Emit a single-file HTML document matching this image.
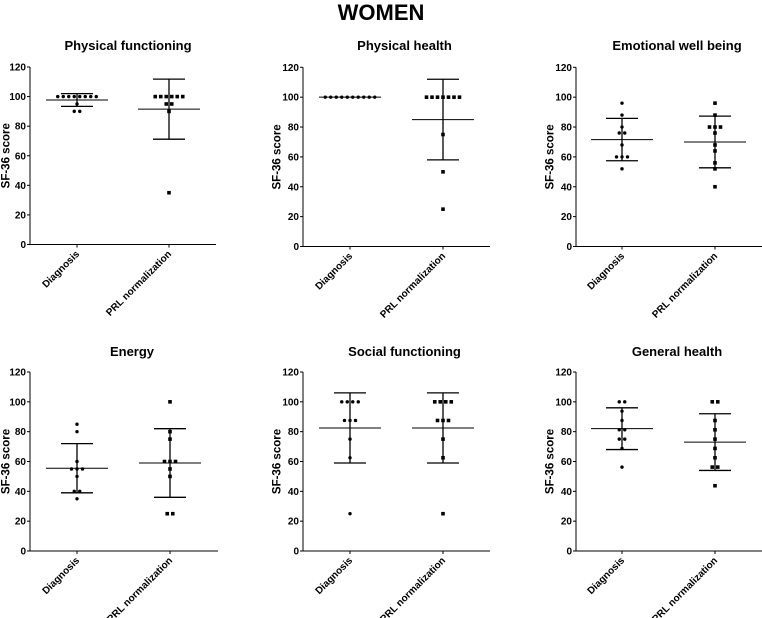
<!DOCTYPE html>
<html><head><meta charset="utf-8"><style>
body{margin:0;background:#fff;}
svg{display:block;font-family:"Liberation Sans",Arial,sans-serif;}
</style></head><body>
<svg id="c" width="762" height="618">
<text x="381" y="20" text-anchor="middle" font-size="22" font-weight="bold">WOMEN</text>
</svg>
<script>
const panelTitles=["Physical functioning","Physical health","Emotional well being","Energy","Social functioning","General health"];
const groupLabels=["Diagnosis","PRL normalization"];
const yTicks=[0,20,40,60,80,100,120];
const diagValues=[
[100,100,100,100,100,100,100,100,95,90,90],
[100,100,100,100,100,100,100,100,100,100],
[96,88,80,76,76,68,60,60,60,52],
[85,80,60,55,55,55,50,40,40,35],
[100,100,100,100,87.5,87.5,87.5,75,62.5,25],
[100,100,93.75,87.5,81.25,81.25,75,75,68.75,56.25]];
const prlValues=[
[100,100,100,100,100,100,95,95,90,35],
[100,100,100,100,100,100,100,75,50,25],
[96,88,80,80,80,76,68,64,56,52,40],
[100,80,75,60,60,60,55,50,25,25],
[100,100,100,100,87.5,87.5,87.5,75,62.5,25],
[100,100,87.5,81.25,75,68.75,62.5,56.25,56.25,43.75]];
const diagMean=[97.7,100,71.6,55.5,82.5,82];
const diagSD=[4.3,0,14.2,16.5,23.5,14];
const prlMean=[91.5,85,70,59,82.5,73];
const prlSD=[20.3,27,17.3,23,23.5,19];

const NS="http://www.w3.org/2000/svg";
const svg=document.getElementById('c');
function mk(tag,attrs,parent){const e=document.createElementNS(NS,tag);for(const k in attrs)e.setAttribute(k,attrs[k]);(parent||svg).appendChild(e);return e;}
const layout=[
{ax:30,end:216,y0:244.5,y1:67,d:77,p:169,ylab:5,ty:50,tx:-3},
{ax:303,end:490,y0:246.5,y1:67.3,d:350,p:443,ylab:276,ty:50,tx:0},
{ax:576,end:762,y0:246.5,y1:67.3,d:622,p:715,ylab:549,ty:50,tx:0},
{ax:30,end:218,y0:551,y1:372,d:77,p:170,ylab:5,ty:356,tx:0},
{ax:303,end:490,y0:551,y1:372,d:350,p:443,ylab:276,ty:356,tx:0},
{ax:576,end:762,y0:551,y1:372,d:622,p:715,ylab:549,ty:356,tx:0}];
layout.forEach((L,i)=>{
  const g=mk('g',{});
  
  
  const yS=v=>L.y0-(v/120)*(L.y0-L.y1);
  const t=mk('text',{x:(L.ax+L.end)/2+8+L.tx,y:L.ty,'text-anchor':'middle','font-size':13,'font-weight':'bold'},g);
  t.textContent=panelTitles[i];
  
  
  const yl=mk('text',{x:0,y:0,'text-anchor':'middle','font-size':11.5,'font-weight':'bold',transform:`translate(${L.ylab+4.5},${(L.y0+L.y1)/2}) rotate(-90)`},g);
  yl.textContent="SF-36 score";
  
  
  const ya=mk('line',{x1:L.ax,x2:L.ax,y1:L.y1,y2:L.y0,stroke:'#000','stroke-width':1},g);
  
  
  const xa=mk('line',{x1:L.ax,x2:L.end,y1:L.y0,y2:L.y0,stroke:'#000','stroke-width':1},g);
  
  
  yTicks.forEach(v=>{
    mk('line',{x1:L.ax-3,x2:L.ax,y1:yS(v),y2:yS(v),stroke:'#000'},g);
    const tl=mk('text',{x:L.ax-4,y:yS(v)+3.5,'text-anchor':'end','font-size':10,'font-weight':'bold'},g);
    tl.textContent=v;
    
    
  });
  [[L.d,diagValues[i],diagMean[i],diagSD[i],'circle'],[L.p,prlValues[i],prlMean[i],prlSD[i],'square']].forEach((G,gi)=>{
    const [cx,vals,m,sd,shape]=G;
    mk('line',{x1:cx,x2:cx,y1:L.y0,y2:L.y0+3,stroke:'#000'},g);
    const xl=mk('text',{x:0,y:0,'text-anchor':'end','font-size':10,'font-weight':'bold',transform:`translate(${cx+3},${L.y0+10}) rotate(-45)`},g);
    xl.textContent=groupLabels[gi];
    
    
    if(sd>0){
      mk('line',{x1:cx,x2:cx,y1:yS(m+sd),y2:yS(m-sd),stroke:'#000','stroke-width':1.3},g);
      const c1=mk('line',{x1:cx-16,x2:cx+16,y1:yS(m+sd),y2:yS(m+sd),stroke:'#000','stroke-width':1.3},g);
      
      
      const c2=mk('line',{x1:cx-16,x2:cx+16,y1:yS(m-sd),y2:yS(m-sd),stroke:'#000','stroke-width':1.3},g);
      
      
    }
    const ml=mk('line',{x1:cx-31,x2:cx+31,y1:yS(m),y2:yS(m),stroke:'#000','stroke-width':1},g);
    
    
    const counts={};vals.forEach(v=>counts[v]=(counts[v]||0)+1);
    const seen={};
    vals.forEach(v=>{
      const n=counts[v];const k=seen[v]||0;seen[v]=k+1;
      const x=cx+(k-(n-1)/2)*5.5;const y=yS(v);
      let e;
      if(shape==='circle')e=mk('circle',{cx:x,cy:y,r:1.7,fill:'#000'},g);
      else e=mk('rect',{x:x-1.8,y:y-1.8,width:3.6,height:3.6,fill:'#000'},g);
      
      
    });
  });
});
</script>
</body></html>
